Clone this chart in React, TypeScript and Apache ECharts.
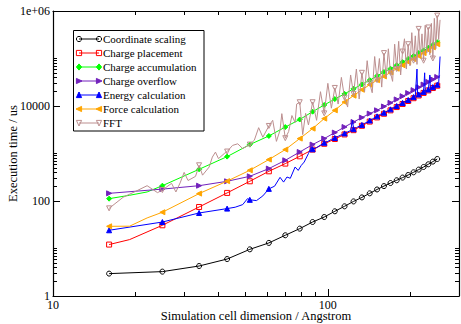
import React, { useEffect, useRef } from 'react';
import * as echarts from 'echarts';

const FONT = 'Liberation Serif';

// x positions that carry a marker (every third sample)
const markerX = [16, 25, 34, 43, 52, 61, 70, 79, 88, 97, 106, 115, 124, 133, 142, 151, 160, 169, 178, 187, 196, 205, 214, 223, 232, 241, 250];

const coordX = [16, 25, 34, 43, 52, 61, 70, 79, 88, 97, 106, 115, 124, 133, 142, 151, 160, 169, 178, 187, 196, 205, 214, 223, 232, 241, 250];
const coordY = [2.96, 3.26, 4.28, 6.0, 9.6, 13.1, 19.0, 26.2, 36.1, 46, 60.7, 77.3, 98, 119, 145, 175, 206, 239, 273, 311, 353, 402, 458, 520, 593, 675, 766];

const placeX = [16, 19, 25, 34, 43, 52, 61, 70, 79, 88, 97, 106, 115, 124, 133, 142, 151, 160, 169, 178, 187, 196, 205, 214, 223, 232, 241, 250, 256];
const placeY = [12.1, 15.4, 30.8, 74.8, 148, 260, 422, 613, 873, 1208, 1600, 2020, 2520, 3100, 3830, 4700, 5750, 6860, 8100, 9500, 11030, 12740, 14600, 16660, 18860, 21280, 23900, 26740, 28700];

const accumX = [16, 19, 22, 25, 34, 43, 52, 61, 70, 79, 88, 97, 106, 115, 124, 133, 142, 151, 160, 169, 178, 187, 196, 205, 214, 223, 232, 241, 250, 256];
const accumY = [112, 132, 155, 210, 465, 860, 1540, 2340, 3600, 5200, 7600, 10500, 14000, 18000, 23000, 28500, 35000, 43000, 52000, 61000, 72000, 84000, 98000, 113000, 130000, 148000, 168000, 192000, 220000, 238000];

const overflowX = [16, 25, 34, 43, 52, 61, 70, 79, 88, 97, 106, 115, 124, 133, 142, 151, 160, 169, 178, 187, 196, 205, 214, 223, 232, 241, 250, 256];
const overflowY = [145, 178, 210, 260, 331, 481, 719, 1076, 1540, 2061, 2754, 3612, 4603, 5700, 6920, 8115, 9770, 11640, 13750, 16070, 18700, 21570, 24760, 28240, 32080, 36200, 40750, 43800];

const energyX = [16, 25, 34, 43, 46, 49, 51, 52, 55, 58, 61, 64, 67, 69, 71, 73, 76, 78, 80, 82, 85, 87, 88, 91, 94, 97, 100, 103, 106, 109, 112, 115, 118, 121, 123, 124, 127, 130, 133, 136, 139, 142, 145, 148, 151, 154, 157, 160, 169, 178, 187, 196, 202, 205, 208, 211, 212, 214, 220, 223, 225, 226, 229, 232, 235, 236, 241, 244, 247, 250, 253, 256];
const energyY = [24.2, 36.1, 55.9, 69.2, 74, 84, 112, 106, 102, 128, 180, 205, 315, 250, 320, 300, 520, 440, 560, 660, 1000, 1350, 1230, 1330, 1500, 1680, 1800, 1980, 2120, 2300, 2480, 2650, 2850, 3050, 5000, 3250, 3500, 3750, 4000, 4300, 4600, 4950, 5300, 5700, 6050, 6500, 6900, 7200, 8500, 10000, 11600, 13400, 14700, 15400, 16000, 60000, 17000, 17500, 19000, 19800, 50000, 20500, 21300, 22200, 45000, 23000, 25000, 26000, 27000, 28000, 29500, 110000];

const forceX = [16, 19, 22, 25, 34, 43, 52, 61, 70, 79, 88, 97, 106, 115, 124, 133, 142, 151, 160, 169, 178, 187, 196, 205, 214, 223, 232, 241, 250, 256];
const forceY = [29.3, 29.5, 44, 58, 143, 262, 443, 745, 1208, 2061, 3342, 5430, 8115, 12100, 16500, 22000, 28000, 35000, 42000, 51000, 61000, 72000, 84000, 98000, 113000, 130000, 150000, 172000, 200000, 212000];

const fftX = [16, 18, 20, 22, 24, 25, 27, 28, 29, 30, 31, 33, 34, 35, 37, 38, 39, 40, 42, 43, 45, 47, 49, 52, 54, 56, 58, 61, 63, 65, 67, 68, 70, 72, 74, 76, 77, 79, 81, 83, 85, 88, 91, 94, 97, 100, 103, 106, 109, 112, 115, 118, 121, 124, 127, 130, 133, 136, 139, 142, 145, 148, 151, 154, 157, 160, 163, 166, 169, 172, 175, 178, 181, 184, 187, 190, 193, 196, 199, 202, 205, 208, 211, 214, 217, 220, 223, 226, 229, 232, 235, 238, 241, 244, 247, 250, 253, 256];
const fftY = [70, 120, 160, 210, 150, 170, 235, 155, 240, 400, 270, 330, 565, 350, 520, 840, 1070, 780, 1000, 1100, 1480, 1600, 1270, 1540, 1900, 3500, 2200, 3800, 5000, 1800, 3100, 6900, 2100, 2900, 6300, 4500, 11000, 12000, 2500, 7000, 4000, 12000, 5000, 20000, 7000, 30000, 9000, 24000, 11000, 40000, 15000, 9500, 45000, 18000, 60000, 14000, 50000, 20000, 90000, 30000, 19000, 110000, 35000, 100000, 25000, 130000, 40000, 160000, 50000, 33000, 200000, 60000, 230000, 45000, 140000, 260000, 60000, 200000, 70000, 350000, 90000, 300000, 75000, 420000, 110000, 330000, 90000, 500000, 130000, 450000, 120000, 550000, 100000, 700000, 160000, 800000, 250000, 650000];

const xMajor = [10, 100];
const xMinor = [20, 30, 40, 50, 60, 70, 80, 90, 200, 300];
const yMajor = [1, 100, 10000, 1000000];
const yMinor = [2, 3, 4, 5, 6, 7, 8, 9, 10, 200, 300, 400, 500, 600, 700, 800, 900, 1000, 20000, 30000, 40000, 50000, 60000, 70000, 80000, 90000, 100000];

const seriesDefs = [
  { name: 'Coordinate scaling', xs: coordX, ys: coordY, color: '#000000', symbol: 'circle', rotate: 0, filled: false, size: 5 },
  { name: 'Charge placement', xs: placeX, ys: placeY, color: '#ff0000', symbol: 'rect', rotate: 0, filled: false, size: 5 },
  { name: 'Charge accumulation', xs: accumX, ys: accumY, color: '#00ff00', symbol: 'diamond', rotate: 0, filled: true, size: 5 },
  { name: 'Charge overflow', xs: overflowX, ys: overflowY, color: '#7221bc', symbol: 'triangle', rotate: -90, filled: true, size: 5 },
  { name: 'Energy calculation', xs: energyX, ys: energyY, color: '#0000ff', symbol: 'triangle', rotate: 0, filled: true, size: 5 },
  { name: 'Force calculation', xs: forceX, ys: forceY, color: '#ffa500', symbol: 'triangle', rotate: 90, filled: true, size: 5 },
  { name: 'FFT', xs: fftX, ys: fftY, color: '#bc8f8f', symbol: 'triangle', rotate: 180, filled: false, size: 5 },
];

function buildData(xs: number[], ys: number[]) {
  const marks = new Set(markerX);
  return xs.map((x, i) => (marks.has(x) ? { value: [x, ys[i]] } : { value: [x, ys[i]], symbol: 'none' }));
}

const AXIS_COLOR = '#000';

function xAxisDef(position: 'bottom' | 'top', major: boolean, withLabel: boolean) {
  return {
    type: 'log',
    logBase: 10,
    min: 10,
    max: 300,
    position,
    splitLine: { show: false },
    axisLine: { show: major, onZero: false, lineStyle: { color: AXIS_COLOR, width: 1.2 } },
    axisTick: { show: true, inside: true, length: major ? 7 : 4, customValues: major ? xMajor : xMinor, lineStyle: { color: AXIS_COLOR, width: 1 } },
    axisLabel: withLabel
      ? { show: true, customValues: xMajor, color: '#000', fontFamily: FONT, fontSize: 12, margin: 3 }
      : { show: false },
    name: withLabel ? 'Simulation cell dimension / Angstrom' : '',
    nameLocation: 'middle',
    nameGap: 13,
    nameMoveOverlap: false,
    nameTextStyle: { color: '#000', fontFamily: FONT, fontSize: 12.5 },
  };
}

function yAxisDef(position: 'left' | 'right', major: boolean, withLabel: boolean) {
  return {
    type: 'log',
    logBase: 10,
    min: 1,
    max: 1000000,
    position,
    splitLine: { show: false },
    axisLine: { show: major, onZero: false, lineStyle: { color: AXIS_COLOR, width: 1.2 } },
    axisTick: { show: true, inside: true, length: major ? 7 : 4, customValues: major ? yMajor : yMinor, lineStyle: { color: AXIS_COLOR, width: 1 } },
    axisLabel: withLabel
      ? {
          show: true,
          customValues: yMajor,
          color: '#000',
          fontFamily: FONT,
          fontSize: 12,
          margin: 3,
          formatter: (v: number) => (v >= 1000000 ? '1e+06' : String(Math.round(v))),
        }
      : { show: false },
    name: withLabel ? 'Execution time / us' : '',
    nameLocation: 'middle',
    nameGap: 34,
    nameMoveOverlap: false,
    nameTextStyle: { color: '#000', fontFamily: FONT, fontSize: 12.5 },
  };
}

// legend glyph (symbol drawn at a line end), in legend-local pixels
function legendSymbol(kind: string, rotate: number, cx: number, cy: number, color: string, filled: boolean) {
  const r = 2.6;
  const style = { fill: filled ? color : 'none', stroke: color, lineWidth: 1 };
  if (kind === 'circle') return { type: 'circle', shape: { cx, cy, r }, style, z: 101 };
  if (kind === 'rect') return { type: 'rect', shape: { x: cx - r, y: cy - r, width: 2 * r, height: 2 * r }, style, z: 101 };
  if (kind === 'diamond')
    return { type: 'polygon', shape: { points: [[cx, cy - r - 0.5], [cx + r, cy], [cx, cy + r + 0.5], [cx - r, cy]] }, style, z: 101 };
  const a = (-rotate * Math.PI) / 180;
  const base = [[0, -r - 0.4], [r, r], [-r, r]];
  const pts = base.map(([px, py]) => [cx + px * Math.cos(a) - py * Math.sin(a), cy + px * Math.sin(a) + py * Math.cos(a)]);
  return { type: 'polygon', shape: { points: pts }, style, z: 101 };
}

function buildLegend() {
  const boxX = 73.5;
  const boxY = 30.5;
  const boxW = 130.5;
  const boxH = 100.5;
  const children: any[] = [
    { type: 'rect', shape: { x: boxX, y: boxY, width: boxW, height: boxH }, style: { fill: '#fff', stroke: '#000', lineWidth: 1 }, z: 100 },
  ];
  seriesDefs.forEach((d, i) => {
    const cy = 39 + i * 14;
    const x0 = 79;
    const x1 = 99;
    children.push({ type: 'line', shape: { x1: x0, y1: cy, x2: x1, y2: cy }, style: { stroke: d.color, lineWidth: 1 }, z: 101 });
    children.push(legendSymbol(d.symbol, d.rotate, x0, cy, d.color, d.filled));
    children.push(legendSymbol(d.symbol, d.rotate, x1, cy, d.color, d.filled));
    children.push({
      type: 'text',
      x: 103,
      y: cy,
      z: 101,
      style: { text: d.name, fill: '#000', fontFamily: FONT, fontSize: 11, verticalAlign: 'middle', align: 'left' },
    });
  });
  return children;
}

export default function App() {
  const ref = useRef<HTMLDivElement>(null);

  useEffect(() => {
    document.body.style.margin = '0';
    if (!ref.current) return;
    const chart = echarts.init(ref.current, undefined, { renderer: 'svg' });
    const option: any = {
      animation: false,
      backgroundColor: '#ffffff',
      textStyle: { fontFamily: FONT },
      grid: { left: 53, right: 2, top: 11, bottom: 28, containLabel: false, outerBoundsMode: 'none' },
      xAxis: [
        xAxisDef('bottom', true, true),
        xAxisDef('bottom', false, false),
        xAxisDef('top', true, false),
        xAxisDef('top', false, false),
      ],
      yAxis: [
        yAxisDef('left', true, true),
        yAxisDef('left', false, false),
        yAxisDef('right', true, false),
        yAxisDef('right', false, false),
      ],
      graphic: buildLegend(),
      series: seriesDefs.map((d, i) => ({
        name: d.name,
        type: 'line',
        xAxisIndex: 0,
        yAxisIndex: 0,
        data: buildData(d.xs, d.ys),
        symbol: d.symbol,
        symbolSize: d.size,
        symbolRotate: d.rotate,
        showSymbol: true,
        showAllSymbol: true,
        silent: true,
        z: 2 + i * 0.01,
        lineStyle: { color: d.color, width: 1 },
        itemStyle: { color: d.filled ? d.color : 'rgba(255,255,255,0)', borderColor: d.color, borderWidth: 1 },
        emphasis: { disabled: true },
      })),
    };
    chart.setOption(option);
    return () => chart.dispose();
  }, []);

  return <div ref={ref} style={{ width: 461, height: 324 }} />;
}
